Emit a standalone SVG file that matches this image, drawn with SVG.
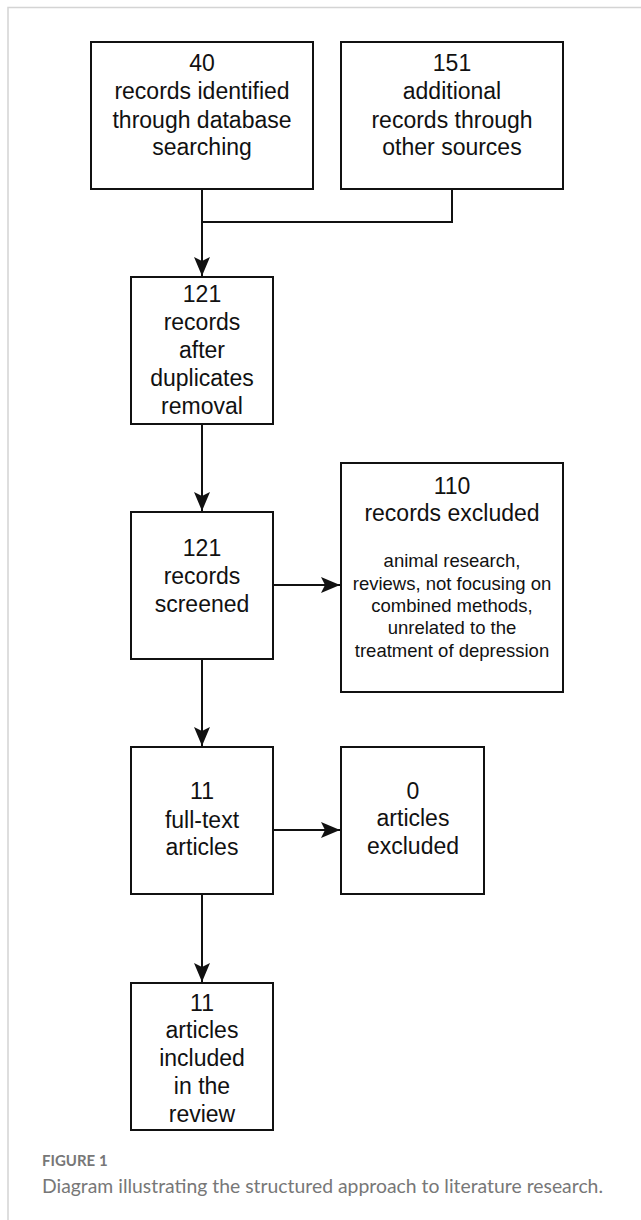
<svg xmlns="http://www.w3.org/2000/svg" width="641" height="1220" viewBox="0 0 641 1220">
<style>
.box{fill:#fff;stroke:#111;stroke-width:2}
.t{font-family:"Liberation Sans",Arial,sans-serif;font-size:23px;fill:#111;text-anchor:middle}
.s{font-family:"Liberation Sans",Arial,sans-serif;font-size:18.5px;fill:#111;text-anchor:middle}
.ln{fill:none;stroke:#111;stroke-width:2}
.frame{fill:none;stroke:#d4d4d4;stroke-width:1.5}
.cap1{font-family:Lato,"Open Sans",sans-serif;font-size:15px;font-weight:bold;fill:#777}
.cap2{font-family:Lato,"Open Sans",sans-serif;font-size:19.3px;fill:#777}
</style>
<defs>
<marker id="arr" markerUnits="userSpaceOnUse" markerWidth="20" markerHeight="18" refX="19" refY="8" orient="auto">
<path d="M19,8 L0,0 L4,8 L0,16 Z" fill="#111"/>
</marker>
</defs>
<rect width="641" height="1220" fill="#fff"/>
<path class="frame" d="M8,1220 V7.5 H641"/>
<g id="connectors">
<path class="ln" d="M202,189 V276" marker-end="url(#arr)"/>
<path class="ln" d="M452,189 V222 H202"/>
<path class="ln" d="M202,424 V511" marker-end="url(#arr)"/>
<path class="ln" d="M273,585 H340" marker-end="url(#arr)"/>
<path class="ln" d="M202,659 V746" marker-end="url(#arr)"/>
<path class="ln" d="M273,830 H340" marker-end="url(#arr)"/>
<path class="ln" d="M202,894 V982" marker-end="url(#arr)"/>
</g>
<g id="n1">
<rect class="box" x="91" y="42" width="222" height="147"/>
<text class="t" x="202" y="71">40</text>
<text class="t" x="202" y="99">records identified</text>
<text class="t" x="202" y="128">through database</text>
<text class="t" x="202" y="155">searching</text>
</g>
<g id="n2">
<rect class="box" x="341" y="42" width="222" height="147"/>
<text class="t" x="452" y="71">151</text>
<text class="t" x="452" y="99">additional</text>
<text class="t" x="452" y="128">records through</text>
<text class="t" x="452" y="155">other sources</text>
</g>
<g id="n3">
<rect class="box" x="131" y="277" width="142" height="147"/>
<text class="t" x="202" y="302">121</text>
<text class="t" x="202" y="330">records</text>
<text class="t" x="202" y="358">after</text>
<text class="t" x="202" y="386">duplicates</text>
<text class="t" x="202" y="414">removal</text>
</g>
<g id="n4">
<rect class="box" x="131" y="512" width="142" height="147"/>
<text class="t" x="202" y="556">121</text>
<text class="t" x="202" y="584">records</text>
<text class="t" x="202" y="612">screened</text>
</g>
<g id="n5">
<rect class="box" x="341" y="463" width="222" height="229"/>
<text class="t" x="452" y="494">110</text>
<text class="t" x="452" y="521">records excluded</text>
<text class="s" x="452" y="567">animal research,</text>
<text class="s" x="452" y="590">reviews, not focusing on</text>
<text class="s" x="452" y="612">combined methods,</text>
<text class="s" x="452" y="634">unrelated to the</text>
<text class="s" x="452" y="657">treatment of depression</text>
</g>
<g id="n6">
<rect class="box" x="131" y="747" width="142" height="147"/>
<text class="t" x="202" y="799">11</text>
<text class="t" x="202" y="828">full-text</text>
<text class="t" x="202" y="855">articles</text>
</g>
<g id="n7">
<rect class="box" x="341" y="747" width="143" height="147"/>
<text class="t" x="413" y="799">0</text>
<text class="t" x="413" y="826">articles</text>
<text class="t" x="413" y="854">excluded</text>
</g>
<g id="n8">
<rect class="box" x="131" y="983" width="142" height="147"/>
<text class="t" x="202" y="1011">11</text>
<text class="t" x="202" y="1038">articles</text>
<text class="t" x="202" y="1066">included</text>
<text class="t" x="202" y="1094">in the</text>
<text class="t" x="202" y="1122">review</text>
</g>
<text class="cap1" x="42" y="1166">FIGURE 1</text>
<text class="cap2" x="42" y="1193" textLength="561" lengthAdjust="spacingAndGlyphs">Diagram illustrating the structured approach to literature research.</text>
</svg>
